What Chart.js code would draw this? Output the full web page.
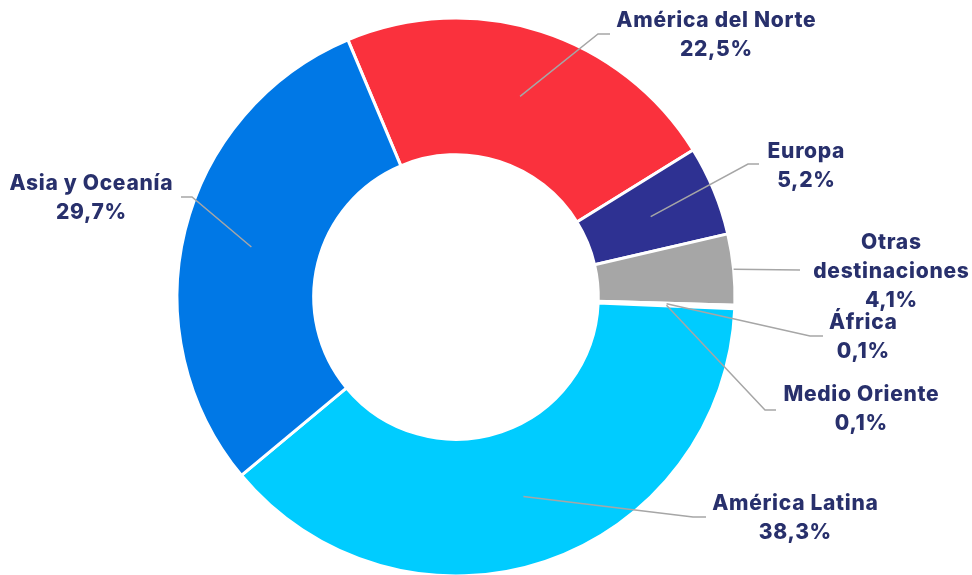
<!DOCTYPE html>
<html>
<head>
<meta charset="utf-8">
<script src="https://cdn.jsdelivr.net/npm/chart.js@4.4.1/dist/chart.umd.min.js"></script>
<style>
  html, body { margin: 0; padding: 0; background: #fff; overflow: hidden; }
  #wrap { width: 972px; height: 580px; position: relative; }
</style>
</head>
<body>
<div id="wrap"><canvas id="destinosChart"></canvas></div>
<script>
// Data
const categories = ['América del Norte', 'Europa', 'Otras destinaciones', 'África', 'Medio Oriente', 'América Latina', 'Asia y Oceanía'];
const shares = [22.5, 5.2, 4.1, 0.1, 0.1, 38.3, 29.7];
const sliceColors = ['#FA313D', '#2E3192', '#A6A6A6', '#F2A900', '#6AA84F', '#00CCFF', '#0078E6'];

// Label placement: bend point, end of leader, text centre (first line)
const labelLayout = [
    { bend: [598, 34], end: [610, 34], text: [716, 21] },
    { bend: [748, 164], end: [759, 164], text: [806, 152] },
    { bend: null, end: [800, 270], text: [891, 243], wrap: true, fromEdge: true },
    { bend: [810, 336], end: [823, 336], text: [863, 323] },
    { bend: [765, 410], end: [776, 410], text: [861, 395] },
    { bend: [693, 517], end: [706, 517], text: [795, 504] },
    { bend: [192, 197], end: [181, 197], text: [91, 184] }
];

const textColor = '#28306C';
const leaderColor = '#A6A6A6';
const lineGap = 29;

function formatShare(v) {
    return v.toFixed(1).replace('.', ',') + '%';
}

// Draws leader lines and labels outside the ring
const outsideLabels = {
    id: 'outsideLabels',
    afterDatasetsDraw(chart) {
        const ctx = chart.ctx;
        const meta = chart.getDatasetMeta(0);
        ctx.save();
        meta.data.forEach((arc, i) => {
            const lay = labelLayout[i];
            const p = arc.getProps(['x', 'y', 'startAngle', 'endAngle', 'innerRadius', 'outerRadius'], true);
            const mid = (p.startAngle + p.endAngle) / 2;
            const r = lay.fromEdge ? p.outerRadius : (p.innerRadius + p.outerRadius) / 2;
            const sx = p.x + Math.cos(mid) * r;
            const sy = p.y + Math.sin(mid) * r;

            ctx.beginPath();
            ctx.strokeStyle = leaderColor;
            ctx.lineWidth = 1.5;
            ctx.moveTo(sx, sy);
            if (lay.bend) ctx.lineTo(lay.bend[0], lay.bend[1]);
            ctx.lineTo(lay.end[0], lay.end[1]);
            ctx.stroke();

            const lines = lay.wrap ? categories[i].split(' ') : [categories[i]];
            lines.push(formatShare(shares[i]));
            ctx.fillStyle = textColor;
            ctx.font = '800 21px Inter';
            ctx.letterSpacing = '0.7px';
            ctx.textAlign = 'center';
            ctx.textBaseline = 'middle';
            lines.forEach((t, k) => {
                ctx.fillText(t, lay.text[0] + 0.35, lay.text[1] + k * lineGap);
            });
        });
        ctx.restore();
    }
};

new Chart(document.getElementById('destinosChart'), {
    type: 'doughnut',
    data: {
        labels: categories,
        datasets: [{
            data: shares,
            backgroundColor: sliceColors,
            borderColor: '#FFFFFF',
            borderWidth: 3,
            hoverOffset: 0
        }]
    },
    options: {
        responsive: true,
        maintainAspectRatio: false,
        animation: false,
        rotation: -22.8,
        cutout: '51%',
        layout: {
            padding: { left: 175.5, top: 16.5, right: 235.5, bottom: 2.5 }
        },
        plugins: {
            legend: { display: false },
            tooltip: { enabled: false }
        }
    },
    plugins: [outsideLabels]
});
</script>
</body>
</html>
